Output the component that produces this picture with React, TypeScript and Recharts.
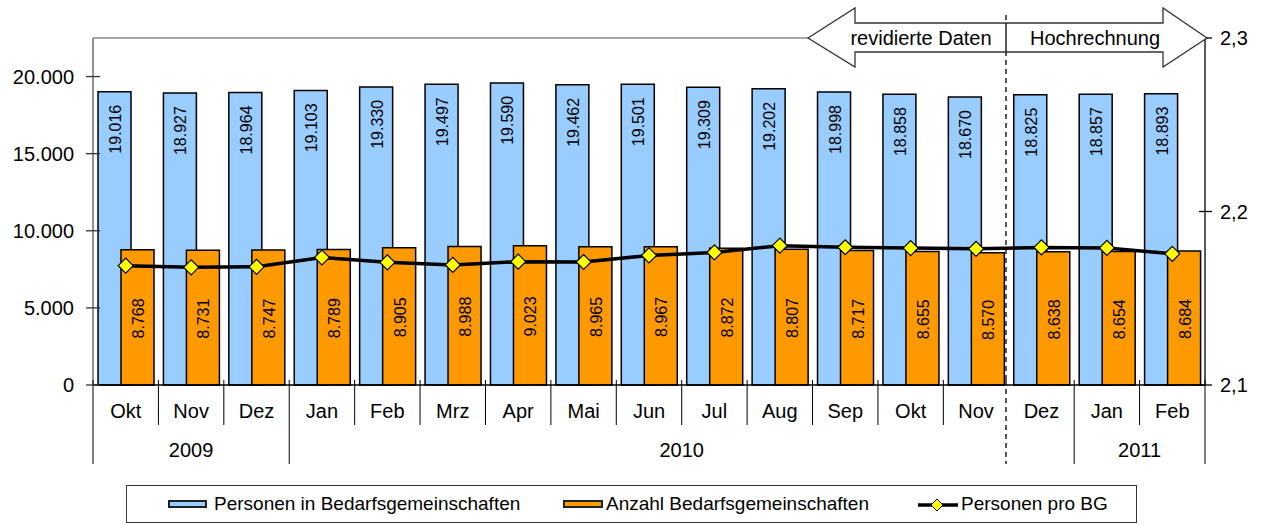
import React from 'react';
import { ComposedChart, Bar, Line, XAxis, YAxis, LabelList, Legend } from 'recharts';

// ---------- data ----------
const months = ['Okt', 'Nov', 'Dez', 'Jan', 'Feb', 'Mrz', 'Apr', 'Mai', 'Jun', 'Jul', 'Aug', 'Sep', 'Okt', 'Nov', 'Dez', 'Jan', 'Feb'];
const personen = [19016, 18927, 18964, 19103, 19330, 19497, 19590, 19462, 19501, 19309, 19202, 18998, 18858, 18670, 18825, 18857, 18893];
const anzahl = [8768, 8731, 8747, 8789, 8905, 8988, 9023, 8965, 8967, 8872, 8807, 8717, 8655, 8570, 8638, 8654, 8684];
const proBG = [2.1688, 2.1678, 2.1681, 2.1735, 2.1707, 2.1692, 2.1711, 2.1709, 2.1747, 2.1764, 2.1803, 2.1794, 2.1789, 2.1785, 2.1793, 2.179, 2.1756];
const years = [
  { label: '2009', from: 0, to: 2 },
  { label: '2010', from: 3, to: 14 },
  { label: '2011', from: 15, to: 16 },
];
const leftTicks = [0, 5000, 10000, 15000, 20000];
const rightTicks = [2.1, 2.2, 2.3];
const splitIndex = 14;
const seriesNames = ['Personen in Bedarfsgemeinschaften', 'Anzahl Bedarfsgemeinschaften', 'Personen pro BG'];
const annotLeft = 'revidierte Daten';
const annotRight = 'Hochrechnung';

const data = months.map((m, i) => ({ m, p: personen[i], a: anzahl[i], r: proBG[i] }));

// ---------- layout ----------
const W = 1267;
const H = 525;
const PL = 93;
const PR = 1205;
const PT = 38;
const PB = 385;
const BAND = (PR - PL) / months.length;
const FONT = '"Liberation Sans", Arial, sans-serif';
const BLUE = '#99CCFF';
const ORANGE = '#FF9900';

const fmtDE = (n: number) => String(n).replace(/\B(?=(\d{3})+(?!\d))/g, '.');
const fmtDec = (n: number) => n.toFixed(1).replace('.', ',');

const LeftTick = (props: any) => {
  const { y, payload } = props;
  return (
    <g>
      <line x1={PL - 7} x2={PL + 7} y1={y} y2={y} stroke="#333" strokeWidth={1.3} />
      <text x={74} y={y + 7} textAnchor="end" fontFamily={FONT} fontSize={20} fill="#000">
        {fmtDE(payload.value)}
      </text>
    </g>
  );
};

const RightTick = (props: any) => {
  const { y, payload } = props;
  return (
    <g>
      <line x1={PR - 6} x2={PR + 7} y1={y} y2={y} stroke="#000" strokeWidth={1.3} />
      <text x={1220} y={y + 7} textAnchor="start" fontFamily={FONT} fontSize={20} fill="#000">
        {fmtDec(payload.value)}
      </text>
    </g>
  );
};

const MonthTick = (props: any) => {
  const { x, payload } = props;
  const i: number = payload.index ?? props.index;
  const half = BAND / 2;
  const yearStart = years.some((yr) => yr.from === i);
  const els: any[] = [];
  els.push(
    <text key="t" x={x} y={418} textAnchor="middle" fontFamily={FONT} fontSize={20} fill="#000">
      {payload.value}
    </text>
  );
  if (i === splitIndex) {
    els.push(<line key="s" x1={1006} x2={1006} y1={380} y2={464} stroke="#000" strokeWidth={1.3} strokeDasharray="5,4" />);
  } else if (yearStart) {
    els.push(<line key="s" x1={x - half} x2={x - half} y1={380} y2={464} stroke="#000" strokeWidth={1} />);
  } else {
    els.push(<line key="s" x1={x - half} x2={x - half} y1={380} y2={425} stroke="#000" strokeWidth={1} />);
  }
  if (i === months.length - 1) {
    els.push(<line key="e" x1={x + half} x2={x + half} y1={380} y2={464} stroke="#000" strokeWidth={1} />);
  }
  years.forEach((yr) => {
    const mid = (yr.from + yr.to) / 2;
    if (Math.floor(mid) === i) {
      els.push(
        <text key={'y' + yr.label} x={x + (mid - i) * BAND} y={457} textAnchor="middle" fontFamily={FONT} fontSize={20} fill="#000">
          {yr.label}
        </text>
      );
    }
  });
  return <g>{els}</g>;
};

const BlueLabel = (props: any) => {
  const { x, y, width, value } = props;
  const cx = x + width / 2 + 1;
  const cy = y + 13;
  return (
    <text x={cx} y={cy} transform={`rotate(-90 ${cx} ${cy})`} textAnchor="end" dominantBaseline="central" fontFamily={FONT} fontSize={16} fill="#000">
      {fmtDE(value)}
    </text>
  );
};

const OrangeLabel = (props: any) => {
  const { x, y, width, height, value } = props;
  const cx = x + width / 2 + 1;
  const cy = y + height / 2 + 1;
  return (
    <text x={cx} y={cy} transform={`rotate(-90 ${cx} ${cy})`} textAnchor="middle" dominantBaseline="central" fontFamily={FONT} fontSize={16} fill="#000">
      {fmtDE(value)}
    </text>
  );
};

const Diamond = (props: any) => {
  const { cx, cy } = props;
  if (cx == null || cy == null) return null;
  const s = 7.5;
  return <polygon points={`${cx - s},${cy} ${cx},${cy - s} ${cx + s},${cy} ${cx},${cy + s}`} fill="#FFFF00" stroke="#000" strokeWidth={1.2} />;
};

const LegendBox = () => (
  <div
    style={{
      boxSizing: 'border-box',
      position: 'relative',
      width: 1011,
      height: 38,
      border: '1px solid #333',
      background: '#fff',
      fontFamily: FONT,
      fontSize: 19,
      color: '#000',
    }}
  >
    <div style={{ position: 'absolute', left: 41, top: 14, width: 39, height: 8, boxSizing: 'border-box', background: BLUE, border: '2px solid #222' }} />
    <div style={{ position: 'absolute', left: 87, top: 7, lineHeight: '22px', whiteSpace: 'nowrap' }}>{seriesNames[0]}</div>
    <div style={{ position: 'absolute', left: 436, top: 14, width: 40, height: 8, boxSizing: 'border-box', background: ORANGE, border: '2px solid #222' }} />
    <div style={{ position: 'absolute', left: 479, top: 7, lineHeight: '22px', whiteSpace: 'nowrap' }}>{seriesNames[1]}</div>
    <svg style={{ position: 'absolute', left: 789, top: 9 }} width={44} height={20}>
      <line x1={2} x2={42} y1={10} y2={10} stroke="#000" strokeWidth={3.5} />
      <polygon points="15,10 21,4 27,10 21,16" fill="#FFFF00" stroke="#000" strokeWidth={1} />
    </svg>
    <div style={{ position: 'absolute', left: 834, top: 7, lineHeight: '22px', whiteSpace: 'nowrap' }}>{seriesNames[2]}</div>
  </div>
);

export default function App() {
  return (
    <div style={{ position: 'absolute', left: 0, top: 0, width: W, height: H, background: '#fff' }}>
      <ComposedChart
        width={W}
        height={H}
        data={data}
        margin={{ top: PT, right: 0, left: 0, bottom: 20 }}
        barGap={-10}
      >
        <XAxis
          dataKey="m"
          interval={0}
          tickLine={false}
          axisLine={{ stroke: '#000', strokeWidth: 1.3 }}
          tick={<MonthTick />}
          height={82}
          tickSize={0}
        />
        <YAxis
          yAxisId="left"
          orientation="left"
          width={PL}
          domain={[0, 22500]}
          ticks={leftTicks}
          interval={0}
          tickLine={false}
          axisLine={{ stroke: '#555', strokeWidth: 1.3 }}
          tick={<LeftTick />}
        />
        <YAxis
          yAxisId="right"
          orientation="right"
          width={W - PR}
          domain={[2.1, 2.3]}
          ticks={rightTicks}
          interval={0}
          tickLine={false}
          axisLine={{ stroke: '#000', strokeWidth: 1.3 }}
          tick={<RightTick />}
        />
        <Legend
          verticalAlign="bottom"
          content={<LegendBox />}
          wrapperStyle={{ position: 'absolute', left: 126, top: 485, bottom: 'auto', width: 1011, height: 38 }}
        />
        <Bar yAxisId="left" dataKey="p" name={seriesNames[0]} fill={BLUE} stroke="#000" strokeWidth={1.5} barSize={33} isAnimationActive={false}>
          <LabelList dataKey="p" content={<BlueLabel />} />
        </Bar>
        <Bar yAxisId="left" dataKey="a" name={seriesNames[1]} fill={ORANGE} stroke="#000" strokeWidth={1.5} barSize={33} isAnimationActive={false}>
          <LabelList dataKey="a" content={<OrangeLabel />} />
        </Bar>
        <Line
          yAxisId="right"
          dataKey="r"
          name={seriesNames[2]}
          type="linear"
          stroke="#000"
          strokeWidth={3.5}
          dot={<Diamond />}
          activeDot={false}
          isAnimationActive={false}
        />
      </ComposedChart>
      <svg style={{ position: 'absolute', left: 0, top: 0, pointerEvents: 'none' }} width={W} height={H}>
        <line x1={PL} x2={808} y1={PT} y2={PT} stroke="#888" strokeWidth={1.3} />
        <line x1={1006} x2={1006} y1={15} y2={385} stroke="#000" strokeWidth={1.3} strokeDasharray="5,4" />
        <polygon
          points="808,38 855,8 855,23 1163,23 1163,8 1207,38 1163,67 1163,52 855,52 855,67"
          fill="#fff"
          stroke="#333"
          strokeWidth={1.3}
        />
        <line x1={1006} x2={1006} y1={23} y2={52} stroke="#000" strokeWidth={1.3} />
        <text x={921} y={45} textAnchor="middle" fontFamily={FONT} fontSize={20} fill="#000">
          {annotLeft}
        </text>
        <text x={1095} y={45} textAnchor="middle" fontFamily={FONT} fontSize={20} fill="#000">
          {annotRight}
        </text>
      </svg>
    </div>
  );
}
